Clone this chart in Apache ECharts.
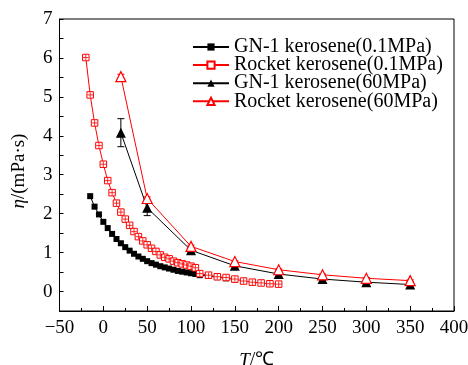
<!DOCTYPE html>
<html>
<head>
    <meta charset="UTF-8">
    <title>viscosity</title>
    <script src="https://cdn.jsdelivr.net/npm/echarts@6/dist/echarts.min.js"></script>
    <style>
        html, body { margin: 0; padding: 0; background: #fff; }
        #main { width: 468px; height: 365px; }
    </style>
</head>
<body>
<div id="main"></div>
<script type="text/javascript">
    // GN-1 kerosene, 0.1 MPa
    var gnLowT = [-15, -10, -5, 0, 5, 10, 15, 20, 25, 30, 35, 40, 45, 50, 55, 60, 65, 70, 75, 80, 85, 90, 95, 100, 105, 110, 120, 130, 140, 150];
    var gnLowEta = [2.45, 2.18, 1.98, 1.79, 1.63, 1.48, 1.35, 1.24, 1.14, 1.05, 0.97, 0.90, 0.84, 0.78, 0.73, 0.69, 0.65, 0.62, 0.59, 0.56, 0.53, 0.51, 0.49, 0.47, 0.45, 0.42, 0.40, 0.37, 0.34, 0.31];
    // Rocket kerosene, 0.1 MPa
    var rkLowT = [-20, -15, -10, -5, 0, 5, 10, 15, 20, 25, 30, 35, 40, 45, 50, 55, 60, 65, 70, 75, 80, 85, 90, 95, 100, 105, 110, 120, 130, 140, 150, 160, 170, 180, 190, 200];
    var rkLowEta = [6.01, 5.05, 4.33, 3.75, 3.27, 2.85, 2.54, 2.27, 2.04, 1.86, 1.70, 1.54, 1.41, 1.30, 1.20, 1.11, 1.03, 0.94, 0.88, 0.84, 0.78, 0.74, 0.71, 0.68, 0.65, 0.61, 0.46, 0.42, 0.38, 0.36, 0.32, 0.27, 0.24, 0.22, 0.20, 0.19];
    // 60 MPa series
    var highT = [20, 50, 100, 150, 200, 250, 300, 350];
    var gnHighEta = [4.08, 2.15, 1.06, 0.66, 0.45, 0.32, 0.24, 0.18];
    var gnHighErr = [0.36, 0.20, 0.04, 0.03, 0.02, 0.02, 0.02, 0.02];
    var rkHighEta = [5.52, 2.39, 1.16, 0.77, 0.56, 0.43, 0.34, 0.28];
    var rkHighErr = [0.06, 0.04, 0.03, 0.02, 0.02, 0.02, 0.02, 0.02];

    var xTicks = [-50, 0, 50, 100, 150, 200, 250, 300, 350, 400];
    var yTicks = [0, 1, 2, 3, 4, 5, 6, 7];

    var font = 'Liberation Serif';

    function pairs(xs, ys) {
        return xs.map(function (x, i) { return [x, ys[i]]; });
    }
    function errPairs(xs, ys, es) {
        return xs.map(function (x, i) { return [x, ys[i] - es[i], ys[i] + es[i]]; });
    }

    function errorBar(color) {
        return function (params, api) {
            var x = api.value(0);
            var lo = api.coord([x, api.value(1)]);
            var hi = api.coord([x, api.value(2)]);
            var w = 3.5;
            var st = { stroke: color, lineWidth: 1 };
            return {
                type: 'group',
                children: [
                    { type: 'line', shape: { x1: lo[0], y1: lo[1], x2: hi[0], y2: hi[1] }, style: st },
                    { type: 'line', shape: { x1: lo[0] - w, y1: lo[1], x2: lo[0] + w, y2: lo[1] }, style: st },
                    { type: 'line', shape: { x1: hi[0] - w, y1: hi[1], x2: hi[0] + w, y2: hi[1] }, style: st }
                ]
            };
        };
    }

    var myChart = echarts.init(document.getElementById('main'));

    var option = {
        animation: false,
        backgroundColor: '#fff',
        textStyle: { fontFamily: font },
        grid: {
            left: 59.5,
            right: 14,
            top: 19,
            bottom: 54,
            outerBoundsMode: 'none',
            containLabel: false,
            show: true,
            borderColor: '#000',
            borderWidth: 1
        },
        legend: {
            orient: 'vertical',
            left: 192,
            top: 37,
            padding: 0,
            itemWidth: 36,
            itemHeight: 9,
            itemGap: -1.9,
            textStyle: { fontFamily: font, fontSize: 20, color: '#000' },
            data: ['GN-1 kerosene(0.1MPa)', 'Rocket kerosene(0.1MPa)', 'GN-1 kerosene(60MPa)', 'Rocket kerosene(60MPa)']
        },
        xAxis: {
            type: 'value',
            min: -50,
            max: 400,
            interval: 50,
            name: '{i|T}/℃',
            nameLocation: 'middle',
            nameGap: 40,
            nameTextStyle: {
                fontFamily: font, fontSize: 19, color: '#000',
                rich: { i: { fontFamily: font, fontSize: 19, fontStyle: 'italic', color: '#000' } }
            },
            splitLine: { show: false },
            axisLine: { onZero: false, lineStyle: { color: '#000', width: 1 } },
            axisTick: { inside: true, length: 5, lineStyle: { color: '#000' } },
            minorTick: { show: true, splitNumber: 2, length: 3, lineStyle: { color: '#000' } },
            axisLabel: {
                fontFamily: font, fontSize: 19, color: '#000', margin: 8,
                formatter: function (v) {
                    if (xTicks.indexOf(v) < 0) return '';
                    return v < 0 ? '\u2212' + (-v) : String(v);
                }
            }
        },
        yAxis: {
            type: 'value',
            min: -0.5,
            max: 7,
            interval: 0.5,
            name: '{i|η}/(mPa·s)',
            nameLocation: 'middle',
            nameGap: 31,
            nameTextStyle: {
                fontFamily: font, fontSize: 19, color: '#000',
                padding: [0, 12, 0, 0],
                rich: { i: { fontFamily: font, fontSize: 19, fontStyle: 'italic', color: '#000' } }
            },
            splitLine: { show: false },
            axisLine: { show: true, onZero: false, lineStyle: { color: '#000', width: 1 } },
            axisTick: { show: true, inside: true, length: 4, lineStyle: { color: '#000' } },
            axisLabel: {
                fontFamily: font, fontSize: 19, color: '#000', margin: 7,
                formatter: function (v) {
                    return yTicks.indexOf(v) < 0 ? '' : String(v);
                }
            }
        },
        series: [
            {
                name: 'GN-1 kerosene(0.1MPa)',
                type: 'line',
                data: pairs(gnLowT, gnLowEta),
                symbol: 'rect',
                symbolSize: 6,
                lineStyle: { color: '#000', width: 1 },
                itemStyle: { color: '#000' },
                z: 3
            },
            {
                name: 'Rocket kerosene(0.1MPa)',
                type: 'line',
                data: pairs(rkLowT, rkLowEta),
                symbol: 'rect',
                symbolSize: 6.5,
                showAllSymbol: true,
                lineStyle: { color: '#f00', width: 1 },
                itemStyle: { color: '#fff', borderColor: '#f00', borderWidth: 1 },
                z: 4
            },
            {
                // cross inside the open squares
                type: 'scatter',
                data: pairs(rkLowT, rkLowEta),
                symbol: 'path://M5,0V10M0,5H10',
                symbolSize: 5.5,
                itemStyle: { color: 'none', borderColor: '#f00', borderWidth: 1 },
                silent: true,
                z: 5
            },
            {
                type: 'custom',
                renderItem: errorBar('#000'),
                data: errPairs(highT, gnHighEta, gnHighErr),
                encode: { x: 0, y: [1, 2] },
                silent: true,
                z: 5
            },
            {
                name: 'GN-1 kerosene(60MPa)',
                type: 'line',
                data: pairs(highT, gnHighEta),
                symbol: 'triangle',
                symbolSize: 10,
                lineStyle: { color: '#000', width: 1 },
                itemStyle: { color: '#000' },
                z: 6
            },
            {
                type: 'custom',
                renderItem: errorBar('#f00'),
                data: errPairs(highT, rkHighEta, rkHighErr),
                encode: { x: 0, y: [1, 2] },
                silent: true,
                z: 6
            },
            {
                name: 'Rocket kerosene(60MPa)',
                type: 'line',
                data: pairs(highT, rkHighEta),
                symbol: 'triangle',
                symbolSize: 10,
                lineStyle: { color: '#f00', width: 1 },
                itemStyle: { color: '#fff', borderColor: '#f00', borderWidth: 1.2 },
                z: 7
            }
        ]
    };

    myChart.setOption(option);
</script>
</body>
</html>
